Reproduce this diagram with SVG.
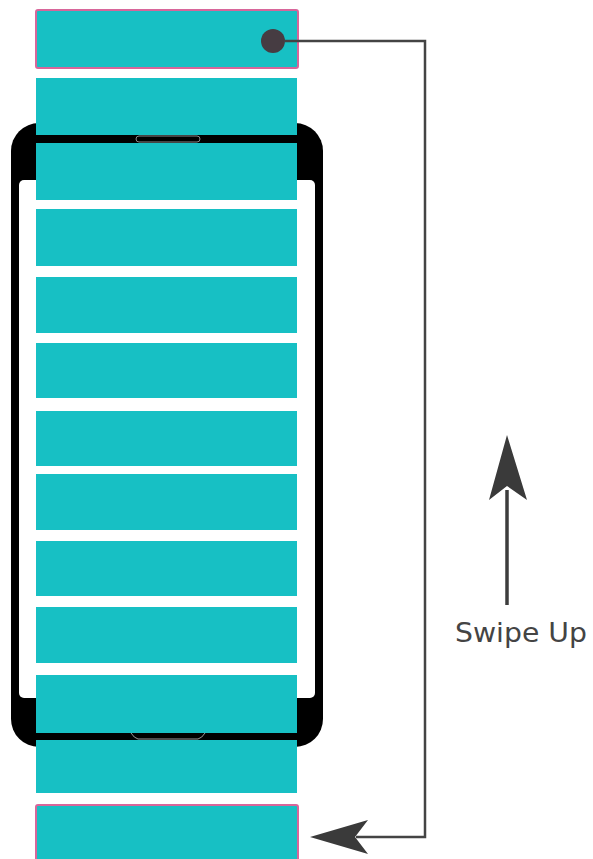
<svg xmlns="http://www.w3.org/2000/svg" width="593" height="859" viewBox="0 0 593 859">
<style>
.bar{fill:#17c0c4}
.sel{fill:#17c0c4;stroke:#d8669a;stroke-width:2}
.conn{fill:none;stroke:#444;stroke-width:2.5}
.head{fill:#3a3a3a}
.lbl{font-family:"DejaVu Sans",Verdana,sans-serif;font-size:26px;fill:#444}
</style>
<rect width="593" height="859" fill="#fff"/>
<g id="phone">
<rect x="11" y="123" width="312" height="624" rx="28" fill="#000"/>
<rect x="19" y="180" width="296" height="518" rx="5" fill="#fff"/>
</g>
<g id="bars">
<g id="bar1"><rect class="sel" x="36" y="10" width="262" height="58" rx="2"/></g>
<g id="bar2"><rect class="bar" x="36" y="78" width="261" height="57"/></g>
<g id="bar3"><rect class="bar" x="36" y="143" width="261" height="57"/></g>
<g id="bar4"><rect class="bar" x="36" y="209" width="261" height="57"/></g>
<g id="bar5"><rect class="bar" x="36" y="277" width="261" height="56"/></g>
<g id="bar6"><rect class="bar" x="36" y="343" width="261" height="55"/></g>
<g id="bar7"><rect class="bar" x="36" y="411" width="261" height="55"/></g>
<g id="bar8"><rect class="bar" x="36" y="474" width="261" height="56"/></g>
<g id="bar9"><rect class="bar" x="36" y="541" width="261" height="55"/></g>
<g id="bar10"><rect class="bar" x="36" y="607" width="261" height="56"/></g>
<g id="bar11"><rect class="bar" x="36" y="675" width="261" height="58"/></g>
<g id="bar12"><rect class="bar" x="36" y="740" width="261" height="53"/></g>
<g id="bar13"><rect class="sel" x="36" y="805" width="262" height="60" rx="2"/></g>
</g>
<g id="phone-details">
<rect x="136" y="136" width="64" height="6" rx="3" fill="#000" stroke="#8a8a8a" stroke-width="1"/>
<path d="M131 733 Q134 738 138 739 L198 739 Q202 738 205 733" fill="none" stroke="#9a9a9a" stroke-width="1"/>
</g>
<g id="connectors">
<circle cx="273" cy="41" r="12" fill="#463c42"/>
<polyline class="conn" points="285,41 425,41 425,837 356,837"/>
<path class="head" d="M310,837 L368,820 L355,837 L368,854 Z"/>
<line x1="507" y1="605" x2="507" y2="490" stroke="#3d3d3d" stroke-width="3.5"/>
<path class="head" d="M507,435 L527,500 L507,486 L489,500 Z"/>
</g>
<g id="label">
<text class="lbl" x="455" y="642" textLength="132" lengthAdjust="spacingAndGlyphs">Swipe Up</text>
</g>
</svg>
